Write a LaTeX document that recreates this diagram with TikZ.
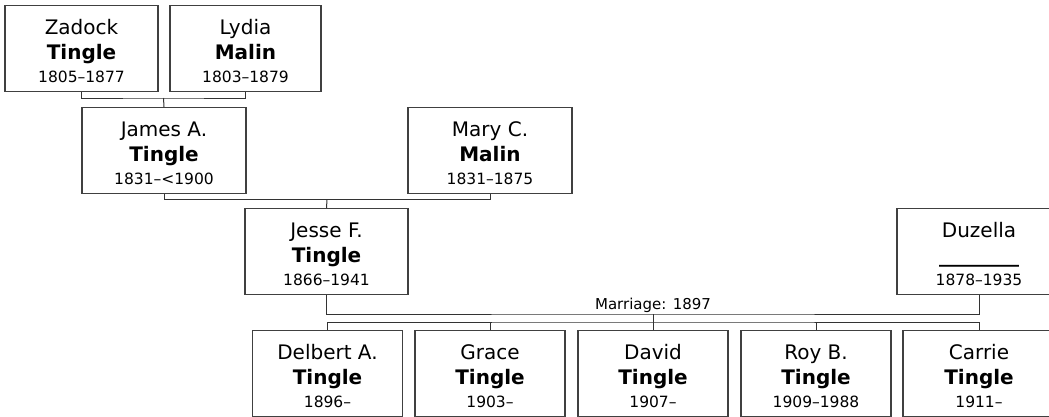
\documentclass[tikz,border=0pt]{standalone}
\usepackage{fontspec}
\setmainfont{DejaVu Sans}
\begin{document}
\begin{tikzpicture}[x=1pt,y=-1pt,
  pbox/.style={draw=black!75, line width=1.3pt, fill=white, minimum height=86pt, inner sep=0pt, anchor=north},
  fname/.style={anchor=base, inner sep=0pt, font=\fontsize{20}{24}\selectfont},
  lname/.style={anchor=base, inner sep=0pt, font=\fontsize{20}{24}\selectfont\bfseries},
  yname/.style={anchor=base, inner sep=0pt, font=\fontsize{15.5}{18}\selectfont},
  mlabel/.style={anchor=base, inner sep=0pt, font=\fontsize{15}{18}\selectfont},
  conn/.style={draw=black!80, line width=1pt}]
\useasboundingbox (0,0) rectangle (1049,416);
\clip (0,0) rectangle (1049,416);
\newcommand\person[7]{%
  \node[pbox, minimum width=#4pt] (#1) at (#2,#3) {};
  \node[fname] (#1-f) at ([yshift=-29.5pt]#1.north) {#5};
  \node[lname] (#1-l) at ([yshift=-54pt]#1.north) {#6};
  \node[yname] (#1-y) at ([yshift=-77.5pt]#1.north) {#7};
}
% generation 1
\person{zadock}{81.5}{5}{153}{Zadock}{Tingle}{1805–1877}
\person{lydia}{245.5}{5}{151}{Lydia}{Malin}{1803–1879}
% generation 2
\person{james}{164}{107}{164}{James A.}{Tingle}{1831–<1900}
\person{mary}{490}{107}{164}{Mary C.}{Malin}{1831–1875}
% generation 3
\person{jesse}{326.5}{208}{163}{Jesse F.}{Tingle}{1866–1941}
\person{duzella}{979}{208}{164}{Duzella}{\_\_\_\_\_\_\_\_}{1878–1935}
% children
\person{delbert}{327.5}{330}{150}{Delbert A.}{Tingle}{1896–}
\person{grace}{490}{330}{150}{Grace}{Tingle}{1903–}
\person{david}{653}{330}{150}{David}{Tingle}{1907–}
\person{roy}{816}{330}{150}{Roy B.}{Tingle}{1909–1988}
\person{carrie}{979}{330}{152}{Carrie}{Tingle}{1911–}
% connectors
\coordinate (u1) at (163.5,98);
\draw[conn] (zadock.south) |- (u1) -| (lydia.south);
\draw[conn] (u1) -- (james.north);
\coordinate (u2) at (327,199.5);
\draw[conn] (james.south) |- (u2) -| (mary.south);
\draw[conn] (u2) -- (jesse.north);
\coordinate (u3) at (653,314);
\draw[conn] (jesse.south) |- (u3) -| (duzella.south);
\node[mlabel] (marr) at (653,309) {Marriage: 1897};
\coordinate (bus) at (653,322);
\draw[conn] (u3) -- (david.north);
\draw[conn] (delbert.north) |- (bus) -| (carrie.north);
\draw[conn] (grace.north) -- (grace.north |- bus);
\draw[conn] (roy.north) -- (roy.north |- bus);
\end{tikzpicture}
\end{document}
